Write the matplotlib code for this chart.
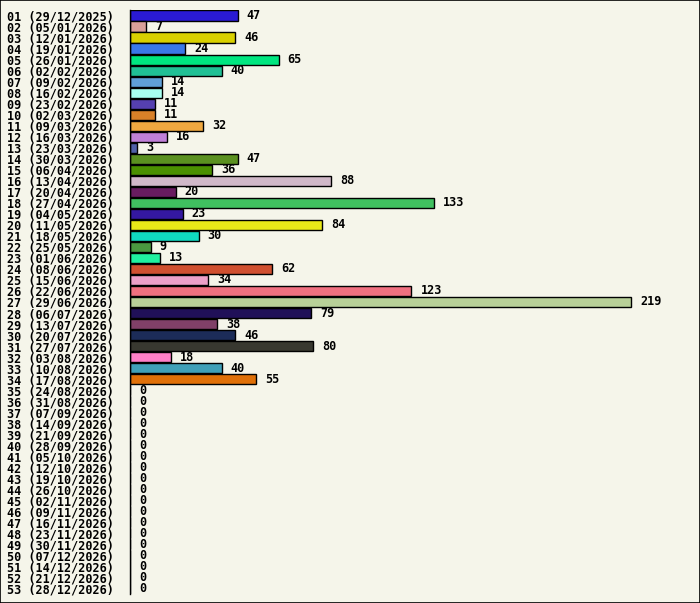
import matplotlib
matplotlib.use("Agg")
import matplotlib.pyplot as plt
from matplotlib.patches import Rectangle

# Weekly counts, week number + Monday date
weeks = ["%02d" % i for i in range(1, 54)]
dates = ["29/12/2025", "05/01/2026", "12/01/2026", "19/01/2026", "26/01/2026",
         "02/02/2026", "09/02/2026", "16/02/2026", "23/02/2026", "02/03/2026",
         "09/03/2026", "16/03/2026", "23/03/2026", "30/03/2026", "06/04/2026",
         "13/04/2026", "20/04/2026", "27/04/2026", "04/05/2026", "11/05/2026",
         "18/05/2026", "25/05/2026", "01/06/2026", "08/06/2026", "15/06/2026",
         "22/06/2026", "29/06/2026", "06/07/2026", "13/07/2026", "20/07/2026",
         "27/07/2026", "03/08/2026", "10/08/2026", "17/08/2026", "24/08/2026",
         "31/08/2026", "07/09/2026", "14/09/2026", "21/09/2026", "28/09/2026",
         "05/10/2026", "12/10/2026", "19/10/2026", "26/10/2026", "02/11/2026",
         "09/11/2026", "16/11/2026", "23/11/2026", "30/11/2026", "07/12/2026",
         "14/12/2026", "21/12/2026", "28/12/2026"]
counts = [47, 7, 46, 24, 65, 40, 14, 14, 11, 11,
          32, 16, 3, 47, 36, 88, 20, 133, 23, 84,
          30, 9, 13, 62, 34, 123, 219, 79, 38, 46,
          80, 18, 40, 55] + [0] * 19
colors = ["#2a1ad4", "#d9a09a", "#d9d000", "#3a78e8", "#00e680",
          "#20c095", "#60a0d8", "#a8fff0", "#5540b0", "#d88028",
          "#f0a840", "#c080d8", "#5060a8", "#5a9020", "#4a9000",
          "#d0b8c8", "#681c60", "#40c060", "#3418a0", "#e8e818",
          "#10d8c0", "#4a9840", "#20f0a0", "#d05030", "#eca0c8",
          "#f07080", "#b8d098", "#201058", "#804068", "#1c2c58",
          "#383830", "#ff80c8", "#40a0b8", "#e07008"] + ["#ffffff"] * 19

labels = ["{} ({})".format(w, d) for w, d in zip(weeks, dates)]

bg = "#f5f5ea"
plt.rcParams['font.family'] = ['DejaVu Sans Mono']
plt.rcParams['font.weight'] = 'bold'
plt.rcParams['font.size'] = 8.5

fig = plt.figure(figsize=(7.0, 6.03), dpi=100)
fig.patch.set_facecolor(bg)
ax = fig.add_axes([130 / 700, 9 / 603, 560 / 700, 584 / 603])
ax.set_facecolor(bg)

y = list(range(len(labels)))
bars = ax.barh(y, counts, height=0.92, color=colors, edgecolor="black", linewidth=1)
for yy, v in zip(y, counts):
    ax.annotate(str(v), xy=(v, yy), xytext=(6.5, 0), textcoords="offset points",
                ha="left", va="center", fontweight="bold")

ax.set_xlim(0, 560 / 2.288)
ax.set_ylim(52.5, -0.5)
ax.set_yticks(y)
ax.set_yticklabels(labels)
ax.tick_params(axis="y", length=0, pad=11.5)
ax.set_xticks([])
for s in ["top", "right", "bottom"]:
    ax.spines[s].set_visible(False)
ax.spines["left"].set_linewidth(1)

fig.patches.append(Rectangle((0.0007, 0.0008), 0.9986, 0.9984, transform=fig.transFigure,
                             fill=False, edgecolor="black", linewidth=1.2))

fig.savefig("out.png", dpi=100, facecolor=bg)
